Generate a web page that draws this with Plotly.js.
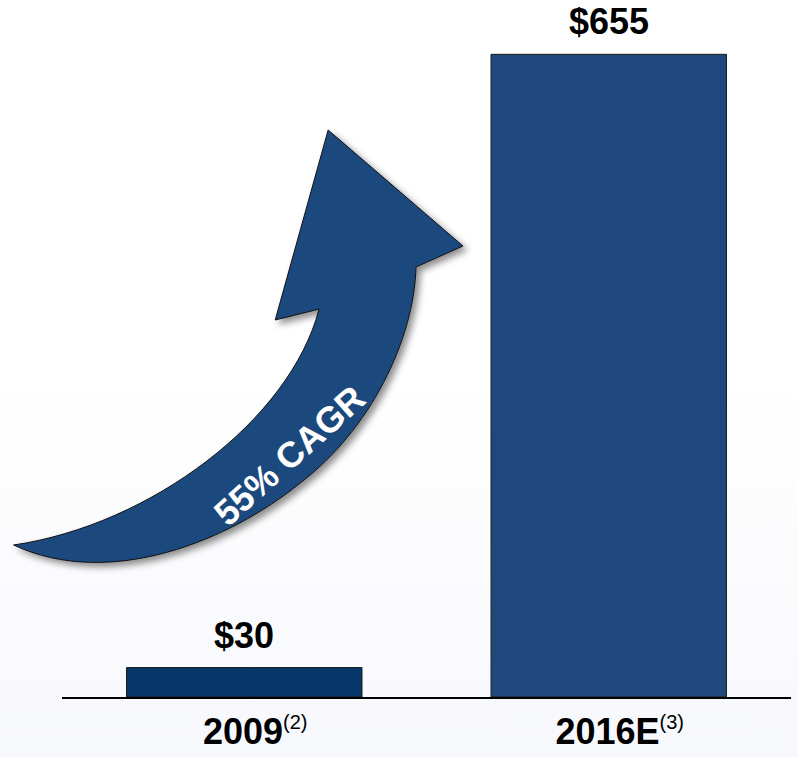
<!DOCTYPE html>
<html>
<head>
<meta charset="utf-8">
<script src="https://cdn.plot.ly/plotly-3.0.1.min.js"></script>
<style>
  html, body { margin: 0; padding: 0; }
  body { width: 798px; height: 757px; background: linear-gradient(to bottom, #ffffff 0%, #ffffff 50%, #f7f8fc 100%); }
  #chart { width: 798px; height: 757px; }
</style>
</head>
<body>
<div id="chart"></div>
<script>
// Market size, $ (2009 actual vs. 2016 estimate)
const categories = ['2009', '2016E'];
const tickLabels = [
  '2009<sup><span style="font-weight:normal;font-size:20px">(2)</span></sup>',
  '2016E<sup><span style="font-weight:normal;font-size:20px">(3)</span></sup>'
];
const values = [30, 655];
const barColors = ['#053769', '#1f497d'];
const cagrLabel = '55% CAGR';

const W = 798, H = 757;
const M = { l: 61.5, r: 6.5, t: 20, b: 60 };
const plotW = W - M.l - M.r, plotH = H - M.t - M.b;

// Convert page pixels to paper fractions for the decorative growth arrow
const px = x => (x - M.l) / plotW;
const py = y => (H - M.b - y) / plotH;
const P = (x, y) => px(x).toFixed(4) + ',' + py(y).toFixed(4);

const arrowPath =
  'M' + P(13, 545) +
  ' C' + P(150, 525) + ' ' + P(290, 420) + ' ' + P(319, 309) +
  ' L' + P(275, 320) +
  ' L' + P(328, 130) +
  ' L' + P(463, 246) +
  ' L' + P(416, 267) +
  ' C' + P(414, 340) + ' ' + P(370, 430) + ' ' + P(300, 483) +
  ' C' + P(230, 540) + ' ' + P(110, 590) + ' ' + P(13, 545) + ' Z';

const trace = {
  type: 'bar',
  x: categories,
  y: values,
  width: 0.646,
  marker: { color: barColors, line: { color: '#1a1a1a', width: 1 } },
  hoverinfo: 'skip',
  showlegend: false
};

const font = 'Liberation Sans, Arial, sans-serif';

// value labels above each bar (x given as category index)
const valueAnnotations = values.map((v, i) => ({
  x: i, y: v, xref: 'x', yref: 'y',
  text: '<b>$' + v + '</b>',
  showarrow: false, yanchor: 'bottom', yshift: 10,
  font: { family: font, size: 36, color: '#000000' }
}));

const cagrAnnotation = {
  xref: 'paper', yref: 'paper',
  x: px(289), y: py(455),
  xanchor: 'center', yanchor: 'middle',
  text: '<b>' + cagrLabel + '</b>',
  showarrow: false, textangle: -42,
  font: { family: font, size: 36, color: '#ffffff' }
};

const layout = {
  width: W, height: H,
  margin: M,
  paper_bgcolor: 'rgba(0,0,0,0)',
  plot_bgcolor: 'rgba(0,0,0,0)',
  font: { family: font },
  xaxis: {
    type: 'category',
    range: [-0.5, 1.5],
    tickvals: categories,
    ticktext: tickLabels,
    ticks: '',
    showline: true, linecolor: '#000000', linewidth: 2,
    showgrid: false, zeroline: false,
    ticklabelshift: 11,
    ticklabelstandoff: 2,
    tickfont: { family: font, size: 36, color: '#000000', weight: 'bold' }
  },
  yaxis: {
    range: [0, 690],
    visible: false,
    showgrid: false, zeroline: false, fixedrange: true
  },
  shapes: [{
    type: 'path', xref: 'paper', yref: 'paper',
    path: arrowPath,
    fillcolor: '#1f497d',
    line: { color: '#111111', width: 1 },
    layer: 'below'
  }],
  annotations: valueAnnotations.concat([cagrAnnotation])
};

Plotly.newPlot('chart', [trace], layout, { displayModeBar: false, staticPlot: true }).then(gd => {
  // soft drop shadow under the arrow
  const svg = gd.querySelector('svg.main-svg');
  const ns = 'http://www.w3.org/2000/svg';
  let defs = svg.querySelector('defs');
  if (!defs) { defs = document.createElementNS(ns, 'defs'); svg.insertBefore(defs, svg.firstChild); }
  const filter = document.createElementNS(ns, 'filter');
  filter.setAttribute('id', 'arrowShadow');
  filter.setAttribute('x', '-20%'); filter.setAttribute('y', '-20%');
  filter.setAttribute('width', '140%'); filter.setAttribute('height', '140%');
  const ds = document.createElementNS(ns, 'feDropShadow');
  ds.setAttribute('dx', '4'); ds.setAttribute('dy', '4');
  ds.setAttribute('stdDeviation', '3.5');
  ds.setAttribute('flood-color', '#000000');
  ds.setAttribute('flood-opacity', '0.45');
  filter.appendChild(ds);
  defs.appendChild(filter);
  gd.querySelectorAll('.shapelayer path').forEach(p => p.setAttribute('filter', 'url(#arrowShadow)'));
});
</script>
</body>
</html>
